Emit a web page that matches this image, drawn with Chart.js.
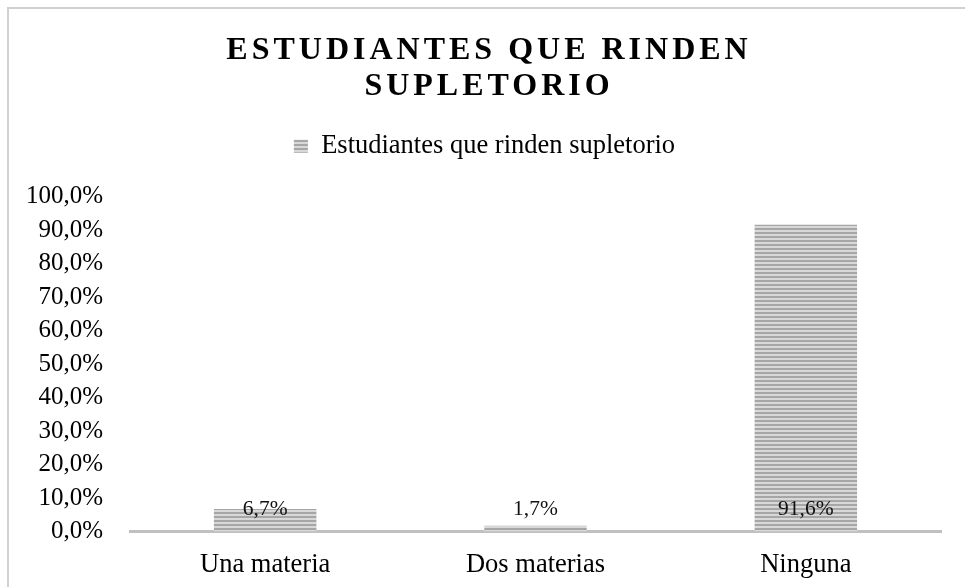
<!DOCTYPE html>
<html><head><meta charset="utf-8">
<script src="https://cdn.jsdelivr.net/npm/chart.js@4"></script>
<style>html,body{margin:0;padding:0;background:#fff;}#wrap{width:965px;height:587px;}</style>
</head><body><div id="wrap"><canvas id="c" width="965" height="587"></canvas></div>
<script>
const categories = ['Una materia', 'Dos materias', 'Ninguna'];
const seriesName = 'Estudiantes que rinden supletorio';
const values = [6.7, 1.7, 91.6];
const titleLines = ['ESTUDIANTES QUE RINDEN', 'SUPLETORIO'];
const yMin = 0, yMax = 100, yStep = 10;

function fmt(v) { return Number(v).toFixed(1).replace('.', ',') + '%'; }

const canvas = document.getElementById('c');
const mainCtx = canvas.getContext('2d');
function makePattern() {
  const p = document.createElement('canvas');
  p.width = 4; p.height = 4;
  const g = p.getContext('2d');
  g.fillStyle = '#d8d8d8'; g.fillRect(0, 0, 4, 4);
  g.fillStyle = '#a6a6a6'; g.fillRect(0, 0, 4, 2);
  return mainCtx.createPattern(p, 'repeat');
}
const stripe = makePattern();
const SERIF = '"Liberation Serif", "Times New Roman", serif';

const frame = {
  id: 'frame',
  beforeDraw(chart) {
    const ctx = chart.ctx;
    ctx.save();
    ctx.fillStyle = '#fff';
    ctx.fillRect(0, 0, chart.width, chart.height);
    ctx.strokeStyle = '#d0d0d0';
    ctx.lineWidth = 2;
    ctx.strokeRect(8, 8, chart.width + 20, chart.height + 20);
    ctx.fillStyle = '#000';
    ctx.font = 'bold 32px ' + SERIF;
    const sp = 4;
    ctx.letterSpacing = sp + 'px';
    ctx.textAlign = 'left';
    ctx.textBaseline = 'alphabetic';
    const baselines = [59, 95];
    titleLines.forEach((line, i) => {
      const w = ctx.measureText(line).width - sp;
      ctx.fillText(line, 487 - w / 2, baselines[i]);
    });
    ctx.restore();
  }
};

const dataLabels = {
  id: 'dataLabels',
  afterDatasetsDraw(chart) {
    const ctx = chart.ctx;
    const meta = chart.getDatasetMeta(0);
    const y0 = chart.scales.y.getPixelForValue(0);
    ctx.save();
    ctx.fillStyle = '#111';
    ctx.font = '21.5px ' + SERIF;
    ctx.textAlign = 'center';
    ctx.textBaseline = 'middle';
    meta.data.forEach((bar, i) => {
      ctx.fillText(fmt(values[i]), bar.x, y0 - 22);
    });
    ctx.restore();
  }
};

const legendGap = {
  id: 'legendGap',
  afterInit(chart) {
    const lg = chart.legend;
    const origFit = lg.fit;
    lg.fit = function () { origFit.call(this); this.height += 27; };
  }
};

new Chart(canvas, {
  type: 'bar',
  data: {
    labels: categories,
    datasets: [{
      label: seriesName,
      data: values,
      backgroundColor: stripe,
      borderWidth: 0,
      categoryPercentage: 1,
      barPercentage: 0.379
    }]
  },
  options: {
    responsive: false,
    animation: false,
    devicePixelRatio: 1,
    layout: { padding: { top: 123, left: 28, right: 24, bottom: 7 } },
    plugins: {
      title: { display: false },
      tooltip: { enabled: false },
      legend: {
        display: true,
        position: 'top',
        labels: {
          boxWidth: 14, boxHeight: 13, padding: 10,
          color: '#000',
          font: { family: SERIF, size: 26.5 }
        }
      }
    },
    scales: {
      x: {
        z: 1,
        grid: { display: false, drawTicks: false },
        border: { display: true, color: '#c0c0c0', width: 3 },
        ticks: { color: '#000', padding: 18, font: { family: SERIF, size: 26.5 } },
        afterFit(scale) { scale.height = 48.5; }
      },
      y: {
        min: yMin, max: yMax,
        grid: { display: false, drawTicks: false },
        border: { display: false },
        ticks: {
          stepSize: yStep,
          color: '#000',
          padding: 27,
          font: { family: SERIF, size: 25 },
          callback: (v) => fmt(v)
        },
        afterFit(scale) { scale.width = 102; }
      }
    }
  },
  plugins: [frame, dataLabels, legendGap]
});
</script>
</body></html>
